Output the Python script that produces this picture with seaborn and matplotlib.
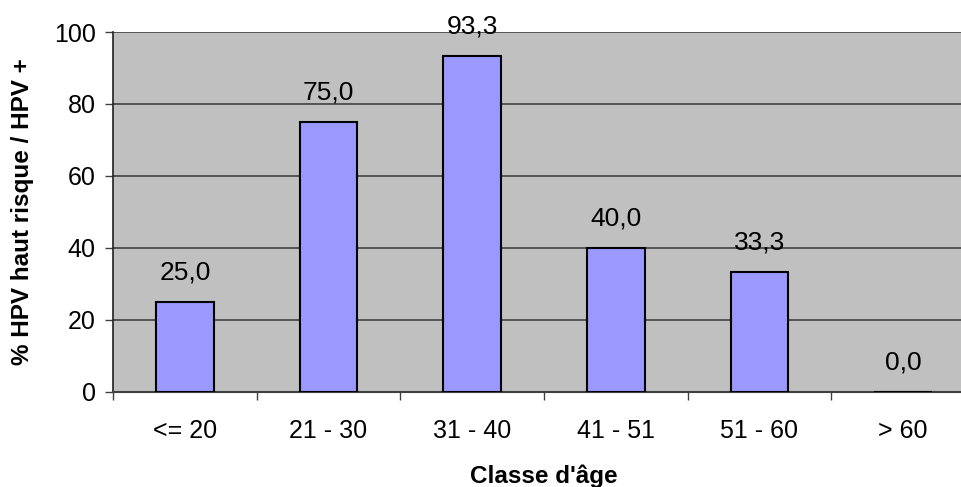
import matplotlib
matplotlib.use("Agg")
import matplotlib.pyplot as plt
import seaborn as sns
import pandas as pd
import numpy as np

categories = ["<= 20", "21 - 30", "31 - 40", "41 - 51", "51 - 60", "> 60"]
values = [25.0, 75.0, 93.3, 40.0, 33.3, 0.0]
y_ticks = [0, 20, 40, 60, 80, 100]

sns.set_style("white")
plt.rcParams['font.family'] = ['Liberation Sans', 'DejaVu Sans']
plt.rcParams['text.color'] = 'black'
plt.rcParams['axes.labelcolor'] = 'black'
plt.rcParams['xtick.color'] = 'black'
plt.rcParams['ytick.color'] = 'black'

fig = plt.figure(figsize=(9.61, 4.87), dpi=100)
ax = fig.add_axes([113/961, 1 - 391.5/487, 862/961, (391.5 - 32)/487])
ax.set_facecolor("#C0C0C0")

df = pd.DataFrame({"cat": categories, "val": values})
sns.barplot(data=df, x="cat", y="val", color="#9999FF", width=0.4,
            edgecolor="black", linewidth=1.5, saturation=1, ax=ax, zorder=3)

for i, v in enumerate(values):
    ax.annotate(f"{v:.1f}".replace(".", ","), (i, v), xytext=(0, 21),
                textcoords="offset points", ha="center", va="center",
                fontsize=19, color="black")

ax.set_ylim(0, 100)
ax.set_xlim(-0.5, len(categories) - 0.5)
ax.set_yticks(y_ticks)
ax.set_yticklabels([str(t) for t in y_ticks], fontsize=18)
ax.yaxis.grid(True, color="#404040", linewidth=1.2, zorder=0)
ax.set_axisbelow(True)
ax.tick_params(axis="y", length=5.5, width=1, color="#404040", pad=7, left=True,
               labelcolor="black")
ax.set_xticks(range(len(categories)))
ax.set_xticklabels(categories, fontsize=18)
ax.set_xticks(np.arange(-0.5, len(categories)), minor=True)
ax.tick_params(axis="x", which="major", length=0, pad=20, labelcolor="black")
ax.tick_params(axis="x", which="minor", length=5.5, width=1, color="#404040", bottom=True)

for s in ["top", "right"]:
    ax.spines[s].set_visible(False)
ax.spines["left"].set_color("#202020")
ax.spines["bottom"].set_color("#404040")
ax.spines["left"].set_linewidth(1.2)
ax.spines["bottom"].set_linewidth(1.5)

ax.set_xlabel("Classe d'âge", fontsize=17.5, fontweight="bold", labelpad=15)
ax.set_ylabel("% HPV haut risque / HPV +", fontsize=17.5, fontweight="bold", labelpad=14)

fig.savefig("out.png", dpi=100)
